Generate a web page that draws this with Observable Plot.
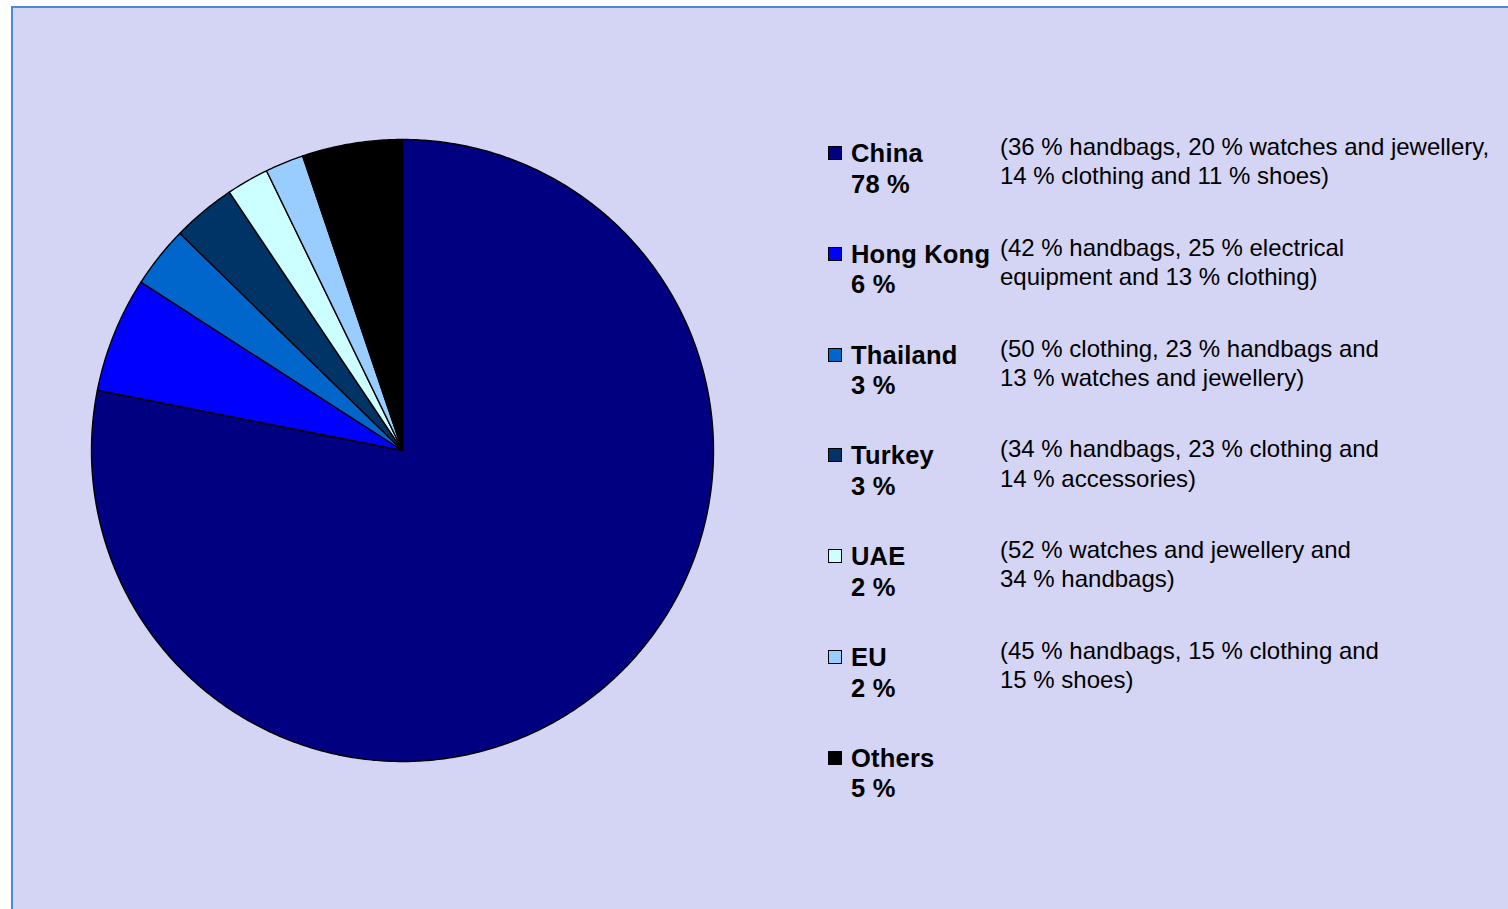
<!DOCTYPE html>
<html>
<head>
<meta charset="utf-8">
<script src="https://cdn.jsdelivr.net/npm/d3@7"></script>
<script src="https://cdn.jsdelivr.net/npm/@observablehq/plot@0.6"></script>
<style>
  html, body { margin: 0; padding: 0; background: #ffffff; }
  #frame {
    position: absolute; left: 11px; top: 6px; width: 1520px; height: 920px;
    background: #d4d4f4; border-left: 2px solid #4a8ad6; border-top: 2px solid #4a8ad6;
    box-sizing: border-box; overflow: hidden;
  }
  #pie { position: absolute; left: 69px; top: 122px; }
  .sq { position: absolute; width: 12px; height: 12px; border: 1px solid #000; }
  .lab { position: absolute; font-family: "Liberation Sans", Arial, sans-serif; font-weight: bold;
         font-size: 25.5px; line-height: 30.5px; color: #000; white-space: nowrap; letter-spacing: 0.2px; }
  .det { position: absolute; font-family: "Liberation Sans", Arial, sans-serif;
         font-size: 24px; line-height: 29.3px; color: #000; white-space: nowrap; }
</style>
</head>
<body>
<div id="frame"><div id="pie"></div></div>
<script>
const countries = ["China", "Hong Kong", "Thailand", "Turkey", "UAE", "EU", "Others"];
const shares = [78.1, 6.0, 3.2, 3.3, 2.2, 2.0, 5.2];
const shareLabels = ["78 %", "6 %", "3 %", "3 %", "2 %", "2 %", "5 %"];
const detailLine1 = [
  "(36 % handbags, 20 % watches and jewellery,",
  "(42 % handbags, 25 % electrical",
  "(50 % clothing, 23 % handbags and",
  "(34 % handbags, 23 % clothing and",
  "(52 % watches and jewellery and",
  "(45 % handbags, 15 % clothing and",
  ""
];
const detailLine2 = [
  "14 % clothing and 11 % shoes)",
  "equipment and 13 % clothing)",
  "13 % watches and jewellery)",
  "14 % accessories)",
  "34 % handbags)",
  "15 % shoes)",
  ""
];
const colors = ["#000080", "#0000ff", "#0066cc", "#003366", "#ccffff", "#99ccff", "#000000"];

// Build slice outlines from the pie layout (angles clockwise from 12 o'clock)
const arcs = d3.pie().sort(null).value(d => d.share)(countries.map((c, i) => ({country: c, share: shares[i]})));
const pts = [];
for (const a of arcs) {
  const c = a.data.country;
  pts.push({country: c, x: 0, y: 0});
  const n = Math.max(2, Math.ceil((a.endAngle - a.startAngle) / (Math.PI / 360)));
  for (let k = 0; k <= n; k++) {
    const t = a.startAngle + (a.endAngle - a.startAngle) * k / n;
    pts.push({country: c, x: Math.sin(t), y: Math.cos(t)});
  }
  pts.push({country: c, x: 0, y: 0});
}

const size = 640, R = 311;
const ext = (size / 2) / R;
const chart = Plot.plot({
  width: size, height: size, margin: 0,
  x: {domain: [-ext, ext], axis: null},
  y: {domain: [-ext, ext], axis: null},
  color: {domain: countries, range: colors},
  style: {background: "transparent", overflow: "visible"},
  marks: [
    Plot.line(pts, {x: "x", y: "y", z: "country", fill: "country", stroke: "#000", strokeWidth: 1.4, strokeLinejoin: "round"})
  ]
});
document.getElementById("pie").appendChild(chart);

// Legend (positions relative to frame: frame origin at page (13, 8) inside border)
const frame = document.getElementById("frame");
const ox = 13, oy = 8, step = 100.8;
countries.forEach((c, i) => {
  const sq = document.createElement("div");
  sq.className = "sq";
  sq.style.left = (828 - ox) + "px";
  sq.style.top = (146 + i * step - oy) + "px";
  sq.style.background = colors[i];
  frame.appendChild(sq);

  const lab = document.createElement("div");
  lab.className = "lab";
  lab.style.left = (851 - ox) + "px";
  lab.style.top = (138 + i * step - oy) + "px";
  lab.innerHTML = c + "<br>" + shareLabels[i];
  frame.appendChild(lab);

  if (detailLine1[i]) {
    const det = document.createElement("div");
    det.className = "det";
    det.style.left = (1000 - ox) + "px";
    det.style.top = (132 + i * step - oy) + "px";
    det.innerHTML = detailLine1[i] + "<br>" + detailLine2[i];
    frame.appendChild(det);
  }
});
</script>
</body>
</html>
